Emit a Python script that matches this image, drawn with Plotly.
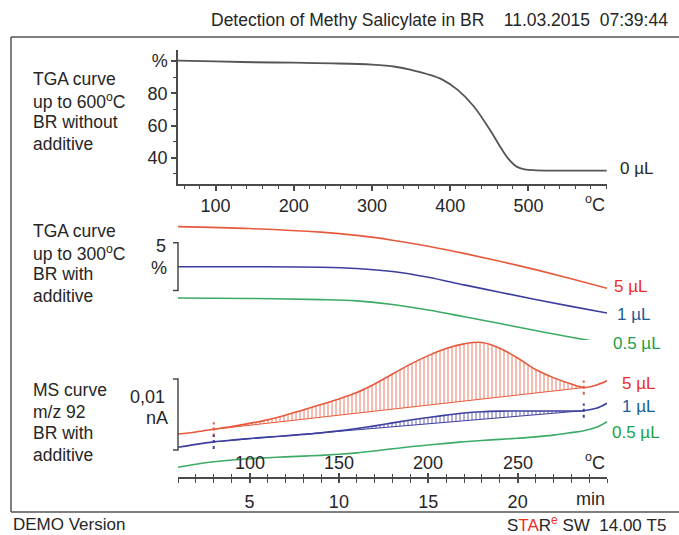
import plotly.graph_objects as go

W, H = 679, 535
FONT = "Liberation Sans, Arial, sans-serif"
TXT = "#262626"
AX = "#4a4a4a"
RED, BLUE, GREEN = "#e8593c", "#3d3f9e", "#3daa66"
RED_T, BLUE_T, GREEN_T = "#ee2d24", "#1b5e96", "#1aa04a"

# ---- data -------------------------------------------------------------
# Top: TGA up to 600 °C, BR without additive (temperature °C, mass %)
tga600_T = [52, 100, 150, 200, 250, 300, 330, 350, 370, 390, 410, 430, 450, 465, 475, 485, 495, 510, 550, 600]
tga600_m = [100.3, 99.8, 99.3, 99.0, 98.6, 97.8, 96.5, 94.5, 92.0, 88.5, 82.0, 72.0, 58.0, 46.0, 39.0, 34.5, 32.8, 32.2, 32.0, 32.0]

# Middle: TGA up to 300 °C, BR with additive (time min, mass % shifted for display)
tga_t = [1, 5, 9, 11, 13, 15, 17, 19, 21, 23, 25]
tga_5ul = [104.2, 104.0, 103.62, 103.28, 102.78, 102.15, 101.4, 100.58, 99.7, 98.75, 97.75]
tga_1ul = [100.0, 100.0, 99.95, 99.82, 99.5, 98.9, 98.1, 97.33, 96.57, 95.85, 95.15]
tga_05ul = [96.72, 96.68, 96.56, 96.42, 96.05, 95.47, 94.77, 94.05, 93.32, 92.62, 91.95]

# Bottom: MS curve m/z 92 (time min, ion current pA shifted for display)
ms_t = [1, 2, 3, 4, 5, 6, 7, 8, 9, 10, 11, 12, 13, 14, 15, 16, 17, 18, 19, 20, 21, 22, 23, 23.7, 24.4, 25]
ms_5ul = [6.06, 6.35, 6.72, 7.1, 7.55, 8.05, 8.7, 9.45, 10.2, 11.0, 11.9, 13.1, 14.5, 15.9, 17.1, 18.1, 18.75, 18.95,
          18.15, 16.76, 15.15, 14.0, 13.1, 12.6, 12.96, 13.56]
ms_1ul = [4.18, 4.6, 4.95, 5.2, 5.42, 5.62, 5.8, 6.0, 6.22, 6.5, 6.83, 7.2, 7.62, 8.02, 8.38, 8.72, 9.02, 9.2,
          9.28, 9.3, 9.3, 9.3, 9.3, 9.34, 9.67, 10.38]
ms_05ul = [1.37, 1.8, 2.15, 2.4, 2.58, 2.72, 2.83, 2.94, 3.05, 3.2, 3.4, 3.67, 3.98, 4.27, 4.5, 4.74, 4.96, 5.14,
           5.3, 5.46, 5.65, 5.9, 6.25, 6.52, 7.0, 7.79]
int_start, int_end = 3, 23.7          # integration limits (min)

temp_ticks_t = [5, 10, 15, 20]        # temperatures shown above time axis
temp_ticks_lbl = ["100", "150", "200", "250"]
time_ticks = [5, 10, 15, 20]

tga_bar = (97.5, 102.5)   # 5 % scale bar
ms_bar = (3.8, 13.8)      # 0.01 nA scale bar (pA)


def fx(px):
    return px / W


def fy(py):
    return 1 - py / H


fig = go.Figure()

# top panel
fig.add_trace(go.Scatter(x=tga600_T, y=tga600_m, mode="lines", line=dict(color="#555555", width=1.8, shape="spline"),
                         xaxis="x", yaxis="y", showlegend=False))

# middle panel
for ys, c in [(tga_5ul, RED), (tga_1ul, BLUE), (tga_05ul, GREEN)]:
    fig.add_trace(go.Scatter(x=tga_t, y=ys, mode="lines", line=dict(color=c, width=1.6, shape="spline", smoothing=1.0),
                             xaxis="x3", yaxis="y2", showlegend=False))

# bottom panel hatched peak areas
i0, i1 = ms_t.index(int_start), ms_t.index(int_end)
for ys, c in [(ms_5ul, RED), (ms_1ul, BLUE)]:
    fig.add_trace(go.Scatter(x=[ms_t[i0], ms_t[i1]], y=[ys[i0], ys[i1]], mode="lines",
                             line=dict(color=c, width=1), xaxis="x3", yaxis="y3", showlegend=False))
    fig.add_trace(go.Scatter(x=ms_t[i0:i1 + 1], y=ys[i0:i1 + 1], mode="lines", line=dict(color=c, width=0),
                             fill="tonexty", fillcolor="rgba(0,0,0,0)",
                             fillpattern=dict(shape="|", fgcolor=c, bgcolor="white", size=4, solidity=0.4),
                             xaxis="x3", yaxis="y3", showlegend=False))
for ys, c in [(ms_5ul, RED), (ms_1ul, BLUE), (ms_05ul, GREEN)]:
    fig.add_trace(go.Scatter(x=ms_t, y=ys, mode="lines", line=dict(color=c, width=1.6, shape="spline"),
                             xaxis="x3", yaxis="y3", showlegend=False))
# integration limit markers
for ys, c in [(ms_5ul, RED), (ms_1ul, BLUE)]:
    for i in (i0, i1):
        fig.add_trace(go.Scatter(x=[ms_t[i], ms_t[i]], y=[ys[i] - 1.0, ys[i] + 1.0], mode="lines",
                                 line=dict(color=c, width=2, dash="dot"), xaxis="x3", yaxis="y3", showlegend=False))

tickfont = dict(family=FONT, size=18, color=TXT)
xdom = [fx(178), fx(607)]

fig.update_layout(
    width=W, height=H, autosize=False, margin=dict(l=0, r=0, t=0, b=0),
    paper_bgcolor="white", plot_bgcolor="white", showlegend=False,
    xaxis=dict(domain=xdom, range=[52, 600.5], anchor="y", showgrid=False, zeroline=False,
               showline=True, linecolor=AX, linewidth=1.5, ticks="outside", ticklen=5, tickwidth=1.5, tickcolor=AX,
               tickmode="array", tickvals=[100, 200, 300, 400, 500], ticktext=["100", "200", "300", "400", "500"],
               minor=dict(tickmode="linear", tick0=0, dtick=20, ticks="outside", ticklen=3, tickwidth=1.2, tickcolor=AX),
               tickfont=tickfont),
    yaxis=dict(domain=[fy(184), fy(50)], range=[23.7, 106.9], anchor="x", showgrid=False, zeroline=False,
               showline=True, linecolor=AX, linewidth=1.5, ticks="outside", ticklen=5, tickwidth=1.5, tickcolor=AX,
               tickmode="array", tickvals=[40, 60, 80, 100], ticktext=["40", "60", "80", "%"],
               minor=dict(tickmode="linear", tick0=0, dtick=10, ticks="outside", ticklen=3, tickwidth=1.2, tickcolor=AX),
               tickfont=tickfont),
    yaxis2=dict(domain=[fy(346), fy(210)], range=[91.7, 105.94], anchor="x3", visible=False),
    xaxis3=dict(domain=xdom, range=[1, 25], anchor="y3", showgrid=False, zeroline=False,
                showline=True, linecolor=AX, linewidth=1.5, ticks="outside", ticklen=4, tickwidth=1.5, tickcolor=AX,
                tickmode="array", tickvals=time_ticks, ticktext=[str(v) for v in time_ticks],
                minor=dict(tickmode="linear", tick0=0, dtick=1, ticks="outside", ticklen=4, tickwidth=1.2, tickcolor=AX),
                tickfont=tickfont, ticklabelstandoff=4),
    xaxis4=dict(domain=xdom, range=[1, 25], anchor="y3", overlaying="x3", showgrid=False, zeroline=False,
                showline=False, ticks="inside", ticklen=4, tickwidth=1.5, tickcolor=AX, showticklabels=False,
                tickmode="array", tickvals=time_ticks,
                minor=dict(tickmode="linear", tick0=0, dtick=1, ticks="inside", ticklen=3, tickwidth=1.2, tickcolor=AX)),
    yaxis3=dict(domain=[fy(477), fy(340)], range=[0, 19.3], anchor="x3", visible=False),
)
# invisible trace so xaxis4 is drawn
fig.add_trace(go.Scatter(x=[ms_t[0]], y=[ms_05ul[0]], mode="markers", marker=dict(opacity=0),
                         xaxis="x4", yaxis="y3", showlegend=False, hoverinfo="skip"))

shapes = []
frame = dict(type="line", xref="paper", yref="paper", line=dict(color="#555555", width=1.5))
shapes.append({**frame, "x0": fx(11), "y0": fy(37), "x1": 1, "y1": fy(37)})
shapes.append({**frame, "x0": fx(11), "y0": fy(37), "x1": fx(11), "y1": fy(512)})
shapes.append({**frame, "x0": fx(11), "y0": fy(512), "x1": 1, "y1": fy(512)})
# scale bars
for yref, (lo, hi) in [("y2", tga_bar), ("y3", ms_bar)]:
    shapes.append(dict(type="path", xref="paper", yref=yref,
                       path=f"M {fx(173)},{hi} L {fx(178)},{hi} L {fx(178)},{lo} L {fx(173)},{lo}",
                       line=dict(color=AX, width=1.5)))
fig.update_layout(shapes=shapes)

ann = []


def text(x, y, s, size=17, color=TXT, xanchor="left", xref="paper", yref="paper"):
    ann.append(dict(x=x, y=y, xref=xref, yref=yref, text=s, showarrow=False, xanchor=xanchor, yanchor="middle",
                    font=dict(family=FONT, size=size, color=color)))


sp = "\u00a0"
text(fx(670), fy(20), f"Detection of Methy Salicylate in BR{sp*4}11.03.2015{sp*2}07:39:44", size=17.5, xanchor="right")
text(fx(11), fy(524), "DEMO Version")
text(fx(668), fy(524), f"S<span style='color:{RED_T}'>TA</span>R<sup><span style='color:{RED_T}'>e</span></sup>{sp}SW{sp*2}14.00{sp}T5",
     xanchor="right")

blocks = [
    (79, ["TGA curve", "up to 600<sup>o</sup>C", "BR without", "additive"]),
    (231, ["TGA curve", "up to 300<sup>o</sup>C", "BR with", "additive"]),
    (390, ["MS curve", "m/z 92", "BR with", "additive"]),
]
for y0, lines in blocks:
    for k, s in enumerate(lines):
        text(fx(31), fy(y0 + 21.5 * k), s, size=17.5)

# axis unit labels
text(600.5, fy(203), "<sup>o</sup>C", size=18, xanchor="right", xref="x")
for t, s in zip(temp_ticks_t, temp_ticks_lbl):
    text(t, fy(463), s, size=18, xanchor="center", xref="x3")
text(25, fy(461), "<sup>o</sup>C", size=18, xanchor="right", xref="x3")
text(25, fy(499), "min", size=18, xanchor="right", xref="x3")

# scale bar labels
text(fx(168), fy(246), "5", size=18, xanchor="right")
text(fx(169), fy(268), "%", size=18, xanchor="right")
text(fx(167), fy(397), "0,01", size=18, xanchor="right")
text(fx(170), fy(418), "nA", size=18, xanchor="right")

# curve labels
text(fx(618), fy(168), "0 µL")
text(fx(612), fy(286), "5 µL", color=RED_T)
text(fx(615), fy(314), "1 µL", color=BLUE_T)
text(fx(611), fy(343), "0.5 µL", color=GREEN_T)
text(fx(620), fy(383), "5 µL", color=RED_T)
text(fx(620), fy(406), "1 µL", color=BLUE_T)
text(fx(610), fy(432), "0.5 µL", color=GREEN_T)

fig.update_layout(annotations=ann)
fig.write_html("out.html")
